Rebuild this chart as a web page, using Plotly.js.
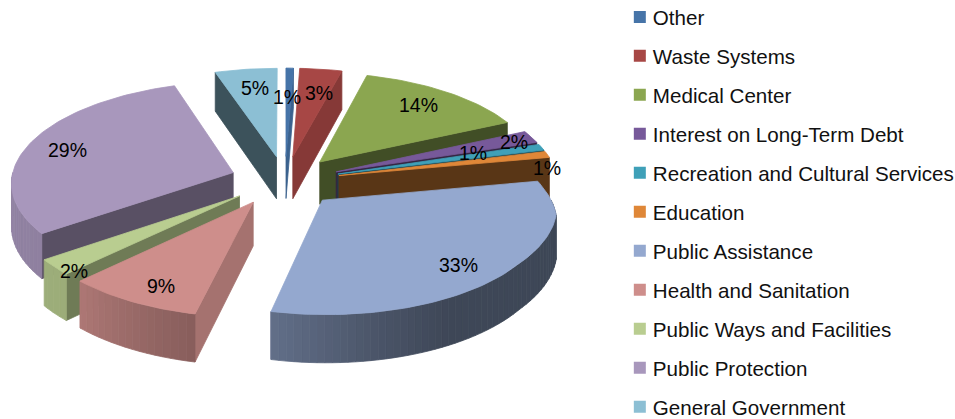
<!DOCTYPE html>
<html><head><meta charset="utf-8">
<script src="https://cdn.plot.ly/plotly-3.0.1.min.js"></script>
<style>html,body{margin:0;padding:0;background:#fff;width:955px;height:419px;overflow:hidden}#c{width:955px;height:435px;margin-top:-3px}</style>
</head><body><div id="c"></div>
<script>
const categories = ["Other","Waste Systems","Medical Center","Interest on Long-Term Debt","Recreation and Cultural Services","Education","Public Assistance","Health and Sanitation","Public Ways and Facilities","Public Protection","General Government"];
const percents = [0.6,3.4,14,2,1,1,33,9,2,29,5];
const colors = ["#4674A8","#A74745","#8BA650","#77599A","#3FA0B8","#DF8738","#94A8CF","#CE8E8B","#B9CD90","#A897BC","#8CBFD4"];
const labelSpots = [[287,97],[318.5,93],[418,105],[514,142],[473,153],[547,168],[458.5,265],[161,286],[73.5,271],[67,150],[255,88]];

// projection of the tilted, exploded pie onto the page
const CX=285, CY=181, A=222, B=100.5, K=0.09, H=43, EXPLODE=0.25;
const rad=d=>d*Math.PI/180;
function proj(u,v,z){const s=1/(1+K*v);return [CX+u*A*s, CY-v*B*s+(z?H*s:0)];}
const faceTable=[[0,.85],[14.4,.8],[64.8,.47],[79.2,.4],[198,.8],[230.4,.6],[237.6,.53],[342,.43],[360,.43]];
const wallTable=[[90,.42],[150,.42],[170,.5],[198,.66],[210,.72],[230,.84],[270,.88]];
const warpTable=[[0,0],[150,0],[198,-5.2],[230.4,-5.4],[237.6,-3.4],[270,0],[360,0]];
const radiusTable=[[0,1],[79.2,.99],[98,1.03],[125,1],[360,1]];
function lerpT(t,a){if(a<=t[0][0])return t[0][1];for(let i=1;i<t.length;i++){if(a<=t[i][0]){const f=(a-t[i-1][0])/(t[i][0]-t[i-1][0]);return t[i-1][1]+f*(t[i][1]-t[i-1][1]);}}return t[t.length-1][1];}
function shade(hex,f){const n=parseInt(hex.slice(1),16);return `rgb(${Math.round((n>>16&255)*f)},${Math.round((n>>8&255)*f)},${Math.round((n&255)*f)})`;}
function poly(pts,fill){const xs=pts.map(p=>p[0]),ys=pts.map(p=>p[1]);xs.push(xs[0]);ys.push(ys[0]);
  return {x:xs,y:ys,type:'scatter',mode:'lines',fill:'toself',fillcolor:fill,line:{color:fill,width:0.8},showlegend:false,hoverinfo:'skip'};}

const total=percents.reduce((a,b)=>a+b,0);
let acc=0;
const slices=percents.map((p,i)=>{const a0=acc/total*360;acc+=p;const a1=acc/total*360;return {i,a0,a1,mid:(a0+a1)/2};});
slices.sort((s,t)=>Math.cos(rad(t.mid))-Math.cos(rad(s.mid)));

const traces=[];
slices.forEach(s=>{
  const col=colors[s.i];
  const ou=EXPLODE*Math.sin(rad(s.mid)), ov=EXPLODE*Math.cos(rad(s.mid));
  const P=(a,r,z)=>{const d=a+lerpT(warpTable,a),q=r*lerpT(radiusTable,a);return proj(ou+q*Math.sin(rad(d)),ov+q*Math.cos(rad(d)),z);};
  if(Math.sin(rad(s.a0))<0) traces.push(poly([P(0,0,0),P(s.a0,1,0),P(s.a0,1,1),P(0,0,1)],shade(col,lerpT(faceTable,s.a0))));
  if(Math.sin(rad(s.a1))>0) traces.push(poly([P(0,0,0),P(s.a1,1,0),P(s.a1,1,1),P(0,0,1)],shade(col,lerpT(faceTable,s.a1))));
  const lo=Math.max(s.a0,90), hi=Math.min(s.a1,270);
  for(let a=lo;a<hi;a+=2){const b=Math.min(a+2,hi);
    traces.push(poly([P(a,1,0),P(b,1,0),P(b,1,1),P(a,1,1)],shade(col,lerpT(wallTable,(a+b)/2))));}
  const top=[P(0,0,0)];
  for(let a=s.a0;a<s.a1;a+=1.5) top.push(P(a,1,0));
  top.push(P(s.a1,1,0));
  traces.push(poly(top,col));
});
categories.forEach((c,i)=>traces.push({x:[null],y:[null],type:'scatter',mode:'markers',name:c,legendgroup:c,
  marker:{symbol:'square',size:10,color:colors[i]},hoverinfo:'skip'}));

const layout={width:955,height:435,margin:{l:0,r:0,t:0,b:13,autoexpand:false},paper_bgcolor:'#fff',plot_bgcolor:'#fff',
  xaxis:{range:[0,955],visible:false,fixedrange:true},yaxis:{range:[419,-3],visible:false,fixedrange:true},
  legend:{x:0.6417,y:1,xanchor:'left',yanchor:'top',tracegroupgap:9.2,itemsizing:'constant',
    font:{family:'Liberation Sans',size:20.6,color:'#111'},bgcolor:'rgba(0,0,0,0)'},
  annotations:percents.map((p,i)=>({x:labelSpots[i][0],y:labelSpots[i][1],xref:'x',yref:'y',text:Math.round(p)+'%',showarrow:false,
    font:{family:'Liberation Sans',size:19.5,color:'#000'}})),
  showlegend:true};
Plotly.newPlot('c',traces,layout,{displayModeBar:false,staticPlot:true}).then(gd=>{
  gd.querySelectorAll('.legend .legendpoints').forEach(g=>g.setAttribute('transform','translate(7,0)'));
});
</script></body></html>
